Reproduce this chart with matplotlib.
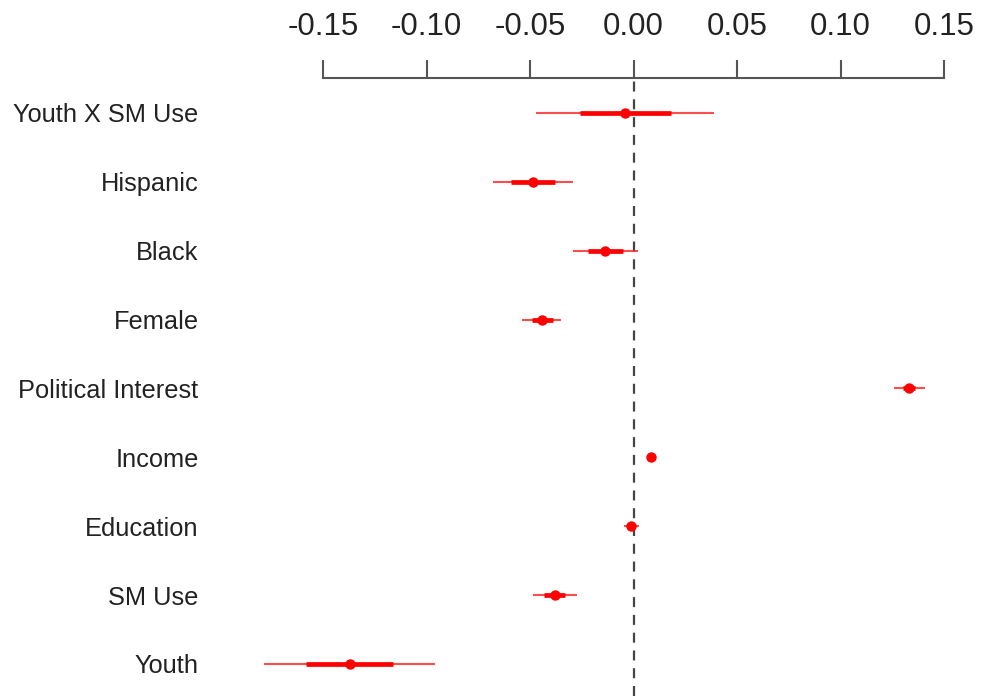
import matplotlib
matplotlib.use("Agg")
import matplotlib.pyplot as plt

# coefficient estimates, top row first
variables = [
    "Youth X SM Use",
    "Hispanic",
    "Black",
    "Female",
    "Political Interest",
    "Income",
    "Education",
    "SM Use",
    "Youth",
]
estimates = [-0.004, -0.0485, -0.014, -0.044, 0.133, 0.0085, -0.001, -0.038, -0.137]
inner_lo = [-0.026, -0.059, -0.022, -0.049, 0.130, 0.0085, -0.0025, -0.043, -0.158]
inner_hi = [0.018, -0.038, -0.005, -0.039, 0.136, 0.0085, 0.0005, -0.033, -0.116]
outer_lo = [-0.047, -0.068, -0.029, -0.054, 0.126, 0.0085, -0.0045, -0.0486, -0.1785]
outer_hi = [0.039, -0.029, 0.002, -0.035, 0.141, 0.0085, 0.0025, -0.0273, -0.096]
xticks = [-0.15, -0.10, -0.05, 0.00, 0.05, 0.10, 0.15]

plt.rcParams["font.family"] = ["Liberation Sans", "DejaVu Sans"]

fig = plt.figure(figsize=(9.82, 6.96), dpi=100)
ax = fig.add_axes([0.2446, 0.0, 0.7378, 0.888])

n = len(variables)
ypos = list(range(n, 0, -1))

ax.axvline(0, color="#444444", lw=1.6, ls=(0, (4.5, 3.5)), zorder=1)
ax.hlines(ypos, outer_lo, outer_hi, color="#ff2020", lw=1.5, alpha=0.8, zorder=2)
ax.hlines(ypos, inner_lo, inner_hi, color="red", lw=3.4, zorder=3)
ax.plot(estimates, ypos, "o", color="red", ms=7.5, mec="none", zorder=4)

ax.set_xlim(-0.19, 0.16)
ax.set_ylim(0.535, 9.508)

for side in ["left", "right", "bottom"]:
    ax.spines[side].set_visible(False)
ax.spines["top"].set_bounds(-0.15, 0.15)
ax.spines["top"].set_color("#555555")
ax.spines["top"].set_linewidth(1.5)

ax.xaxis.tick_top()
ax.set_xticks(xticks)
ax.set_xticklabels([f"{t:.2f}" for t in xticks])
ax.tick_params(axis="x", direction="out", length=13, width=1.5, color="#555555",
               labelsize=22.5, labelcolor="#222222", pad=13)

ax.set_yticks(ypos)
ax.set_yticklabels(variables)
ax.tick_params(axis="y", length=0, labelsize=18.3, labelcolor="#222222", pad=30)

fig.savefig("out.png", dpi=100)
